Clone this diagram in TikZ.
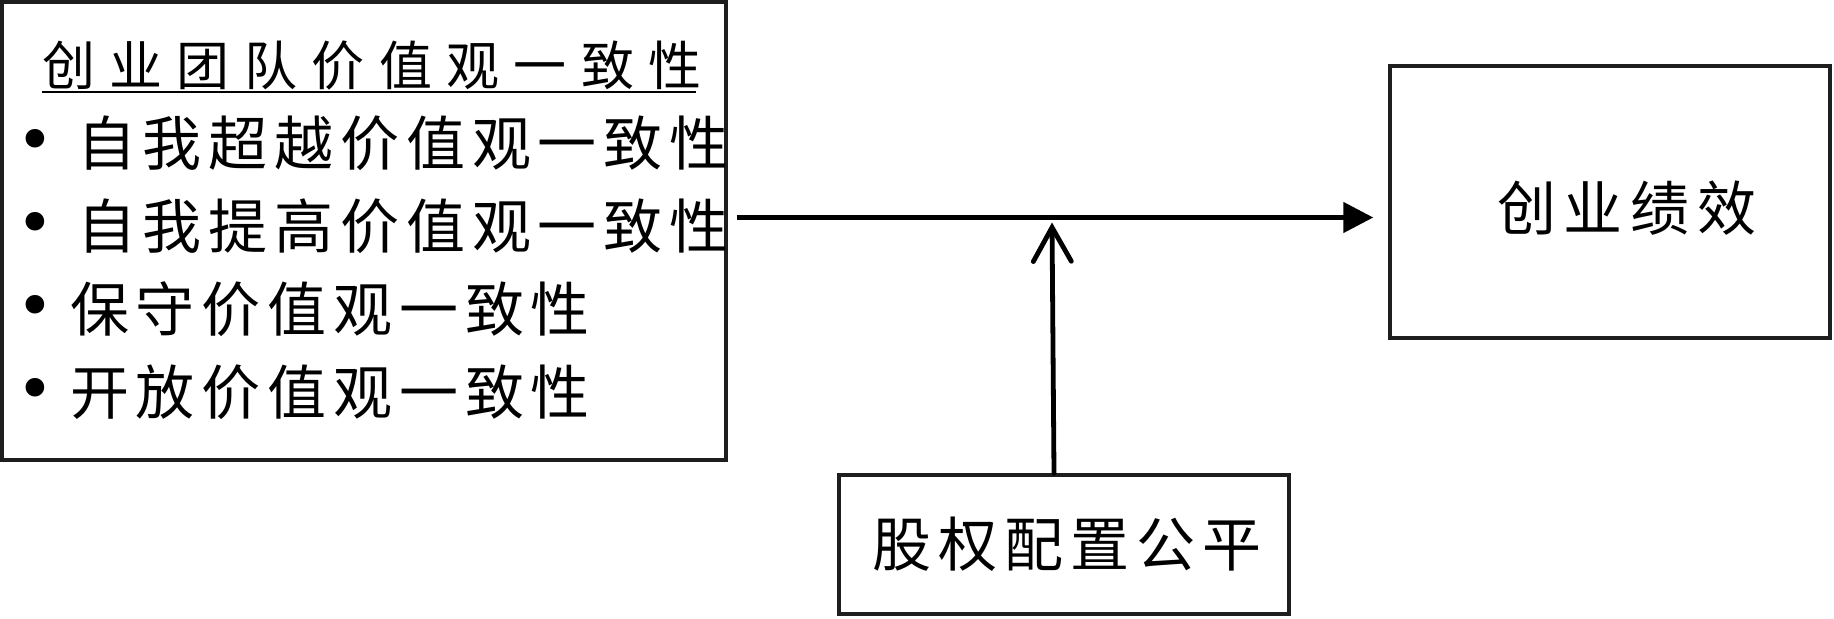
\documentclass[tikz,border=0pt]{standalone}
\usepackage{fontspec}
\newfontfamily\cjk{Noto Sans CJK SC}
\newfontfamily\bulfont{DejaVu Sans}
\usetikzlibrary{arrows.meta}
\definecolor{ink}{HTML}{1E1E1E}
\tikzset{
  box/.style={draw=ink, line width=1.75pt, rectangle, inner sep=0pt},
  txt/.style={inner sep=0pt, outer sep=0pt, anchor=base west, text=black},
  bul/.style={inner sep=0pt, outer sep=0pt, anchor=base, text=black, font=\bulfont\fontsize{32pt}{33pt}\selectfont},
  mainarrow/.style={line width=2.4pt, draw=black, -{Triangle[length=15pt,width=15pt]}},
  modarrow/.style={line width=2.4pt, draw=black, line cap=round, -{Straight Barb[length=17pt,width=19pt,line cap=round]}},
}
\newcommand{\cjkfont}[2]{\cjk\fontsize{#1}{#1}\selectfont\addfontfeatures{LetterSpace=#2}}
\begin{document}
\begin{tikzpicture}[x=0.5pt,y=-0.5pt]
\useasboundingbox (0,0) rectangle (1834,619);
% boxes
\node[box, minimum width=362pt, minimum height=229pt] (lbox) at (364,231) {};
\node[box, minimum width=220pt, minimum height=136pt] (rbox) at (1610,202) {};
\node[box, minimum width=225pt, minimum height=69.5pt] (bbox) at (1064,544.5) {};
% left box texts
\node[txt, font=\cjkfont{26.5pt}{27.2}] (title) at (42,86) {创业团队价值观一致性};
\draw[line width=1pt, black] (42,92) coordinate (ul1) -- (696,92) coordinate (ul2);
\node[txt, font=\cjkfont{29.5pt}{11.6}] (l1) at (77,166) {自我超越价值观一致性};
\node[txt, font=\cjkfont{29.5pt}{11.6}] (l2) at (77,249) {自我提高价值观一致性};
\node[txt, font=\cjkfont{29.5pt}{11.6}] (l3) at (70,332) {保守价值观一致性};
\node[txt, font=\cjkfont{29.5pt}{11.6}] (l4) at (70,415) {开放价值观一致性};
\node[bul] (b1) at (35,163) {•};
\node[bul] (b2) at (35,246) {•};
\node[bul] (b3) at (35,329) {•};
\node[bul] (b4) at (35,412) {•};
% other texts
\node[txt, font=\cjkfont{29.5pt}{13.5}] (perf) at (1497,231) {创业绩效};
\node[txt, font=\cjkfont{29.5pt}{12}] (equity) at (872,566) {股权配置公平};
% connectors
\coordinate (m) at (1052,217.5);
\draw[mainarrow] ([xshift=4.5pt]lbox.east |- m) -- ([xshift=-7.5pt]rbox.west |- m);
\draw[modarrow] ([xshift=-5pt]bbox.north) -- ([yshift=-2.5pt]m);
\end{tikzpicture}
\end{document}
